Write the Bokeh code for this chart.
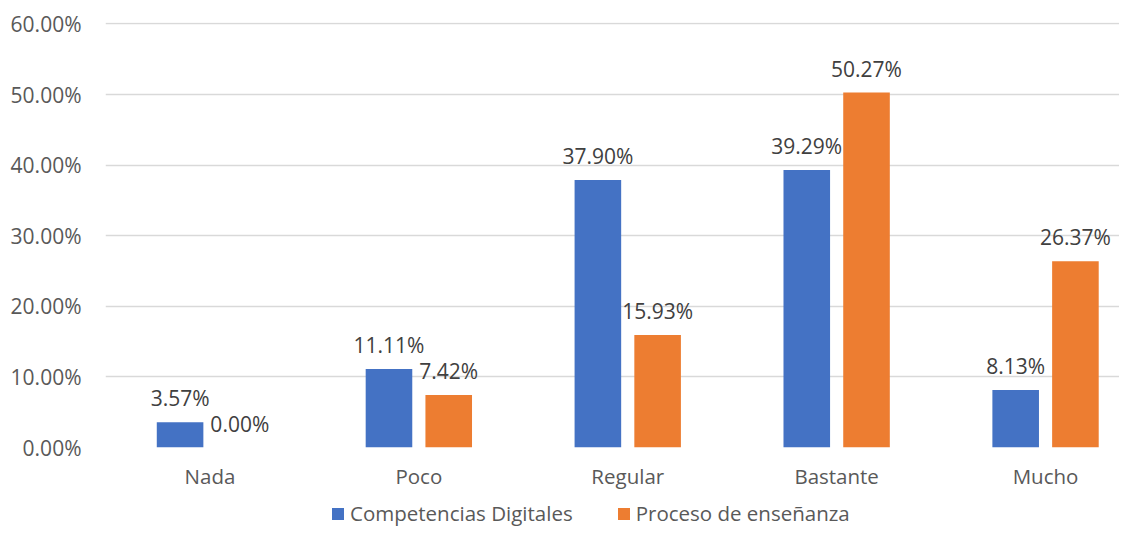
import numpy as np
from bokeh.plotting import figure
from bokeh.layouts import column
from bokeh.models import (ColumnDataSource, Range1d, FixedTicker, PrintfTickFormatter,
                          Legend, LegendItem)
from bokeh.core.properties import value
from bokeh.embed import file_html
from bokeh.resources import INLINE

categories = ["Nada", "Poco", "Regular", "Bastante", "Mucho"]
series_names = ["Competencias Digitales", "Proceso de enseñanza"]
competencias = [3.57, 11.11, 37.90, 39.29, 8.13]
proceso = [0.00, 7.42, 15.93, 50.27, 26.37]
y_ticks = [0, 10, 20, 30, 40, 50, 60]

colors = ["#4472C4", "#ED7D31"]
offsets = [-0.143, 0.143]
bar_w = 0.223
FONT = "Open Sans"

p = figure(width=1119, height=492, output_backend="svg", toolbar_location=None,
           x_range=Range1d(-0.5, 4.354), y_range=Range1d(0, 60.2),
           min_border_left=105, min_border_right=0, min_border_top=22, min_border_bottom=44)
p.outline_line_color = None
p.background_fill_color = "white"
p.border_fill_color = "white"

# legend strip (separate figure so the legend is not clipped); its ranges keep bars off-view
lf = figure(width=1119, height=35, output_backend="svg", toolbar_location=None,
            x_range=Range1d(100, 101), y_range=Range1d(100, 101),
            min_border_left=105, min_border_right=0, min_border_top=0, min_border_bottom=0)
lf.axis.visible = False
lf.grid.visible = False
lf.outline_line_color = None

idx = np.arange(len(categories))
leg_renderers = []
for vals, off, col in zip([competencias, proceso], offsets, colors):
    src = ColumnDataSource(dict(x=idx + off, top=vals,
                                label=[f"{v:.2f}%" for v in vals]))
    p.vbar(x="x", top="top", width=bar_w, source=src, fill_color=col, line_color=None)
    p.text(x="x", y="top", text="label", source=src, text_font=value(FONT),
           text_font_size=value("21px"), text_color="#404040", text_align="center",
           text_baseline="middle", y_offset=-24)
    leg_renderers.append(lf.vbar(x="x", top="top", width=bar_w, source=src,
                                 fill_color=col, line_color=None))

# axes
p.xaxis.ticker = FixedTicker(ticks=list(idx))
p.xaxis.major_label_overrides = {int(i): c for i, c in zip(idx, categories)}
p.xaxis.axis_line_color = None
p.xaxis.major_tick_line_color = None
p.xaxis.minor_tick_line_color = None
p.xaxis.major_tick_out = 0
p.xaxis.major_label_standoff = 14
p.xaxis.major_label_text_font = FONT
p.xaxis.major_label_text_font_size = "20.5px"
p.xaxis.major_label_text_color = "#595959"

p.yaxis.ticker = FixedTicker(ticks=y_ticks)
p.yaxis.formatter = PrintfTickFormatter(format="%.2f%%")
p.yaxis.axis_line_color = None
p.yaxis.major_tick_line_color = None
p.yaxis.minor_tick_line_color = None
p.yaxis.major_tick_out = 0
p.yaxis.major_label_standoff = 24
p.yaxis.major_label_text_font = FONT
p.yaxis.major_label_text_font_size = "21px"
p.yaxis.major_label_text_color = "#595959"

p.xgrid.grid_line_color = None
p.ygrid.grid_line_color = "#D9D9D9"
p.ygrid.grid_line_width = 1.3

legend = Legend(items=[LegendItem(label=n, renderers=[r]) for n, r in zip(series_names, leg_renderers)],
                orientation="horizontal", location=(225, 0))
legend.border_line_color = None
legend.background_fill_alpha = 0
legend.padding = 0
legend.margin = 0
legend.spacing = 43
legend.glyph_width = 15
legend.glyph_height = 15
legend.label_standoff = 5
legend.label_text_font = FONT
legend.label_text_font_size = "20.5px"
legend.label_text_color = "#595959"
lf.add_layout(legend)

layout = column(p, lf, spacing=0)
open("out.html", "w").write(file_html(layout, INLINE))
